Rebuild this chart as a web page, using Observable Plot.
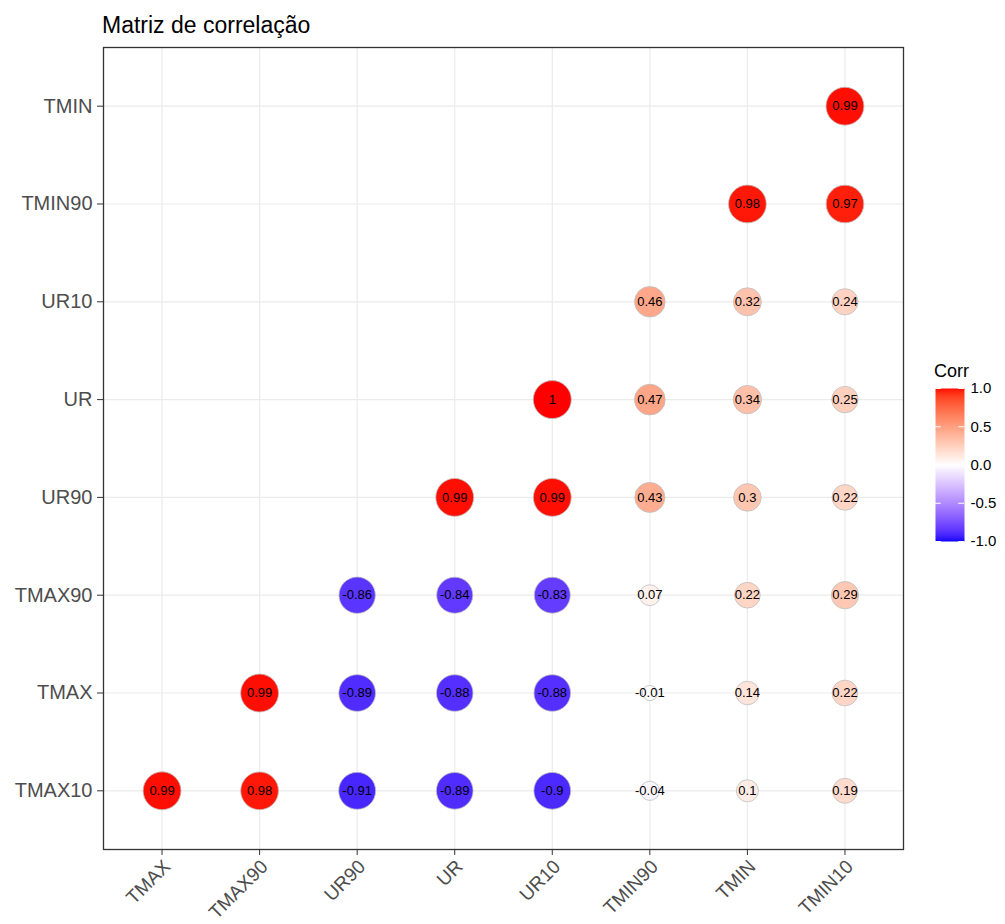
<!DOCTYPE html>
<html>
<head>
<meta charset="utf-8">
<script src="https://cdn.jsdelivr.net/npm/d3@7"></script>
<script src="https://cdn.jsdelivr.net/npm/@observablehq/plot@0.6"></script>
<style>
  html, body { margin: 0; padding: 0; background: #ffffff; }
  #wrap { position: relative; width: 1005px; height: 924px; font-family: "Liberation Sans", Arial, sans-serif; }
  #wrap > * { position: absolute; }
  #title { left: 102px; top: 14px; font-size: 23px; line-height: 1; color: #000; white-space: nowrap; }
  #legtitle { left: 934px; top: 362px; font-size: 18px; line-height: 1; color: #000; }
</style>
</head>
<body>
<div id="wrap">
  <div id="title">Matriz de correlação</div>
  <div id="legtitle">Corr</div>
</div>
<script>
// Column (x) categories, left to right
const cols = ["TMAX", "TMAX90", "UR90", "UR", "UR10", "TMIN90", "TMIN", "TMIN10"];
// Row (y) categories, bottom to top
const rows = ["TMAX10", "TMAX", "TMAX90", "UR90", "UR", "UR10", "TMIN90", "TMIN"];

// Correlation values per row, aligned to cols (null = empty cell)
const corrTMAX10 = [0.99, 0.98, -0.91, -0.89, -0.9, -0.04, 0.1, 0.19];
const corrTMAX   = [null, 0.99, -0.89, -0.88, -0.88, -0.01, 0.14, 0.22];
const corrTMAX90 = [null, null, -0.86, -0.84, -0.83, 0.07, 0.22, 0.29];
const corrUR90   = [null, null, null, 0.99, 0.99, 0.43, 0.3, 0.22];
const corrUR     = [null, null, null, null, 1, 0.47, 0.34, 0.25];
const corrUR10   = [null, null, null, null, null, 0.46, 0.32, 0.24];
const corrTMIN90 = [null, null, null, null, null, null, 0.98, 0.97];
const corrTMIN   = [null, null, null, null, null, null, null, 0.99];

const legendTicks = [-1, -0.5, 0, 0.5, 1];

const rowValues = [corrTMAX10, corrTMAX, corrTMAX90, corrUR90, corrUR, corrUR10, corrTMIN90, corrTMIN];
const cells = [];
rows.forEach((r, i) => {
  rowValues[i].forEach((v, j) => {
    if (v !== null) cells.push({row: r, col: cols[j], value: v});
  });
});
const absVals = cells.map(d => Math.abs(d.value));
const minAbs = d3.min(absVals), maxAbs = d3.max(absVals);

const colorScale = {type: "linear", domain: [-1, 0, 1], range: ["blue", "white", "red"], interpolate: "lab"};
const font = "'Liberation Sans', Arial, sans-serif";

const main = Plot.plot({
  width: 1005,
  height: 924,
  marginTop: 47,
  marginBottom: 75,
  marginLeft: 103,
  marginRight: 102,
  style: {fontFamily: font, background: "transparent"},
  x: {type: "point", domain: cols, padding: 0.6, round: false},
  y: {type: "point", domain: rows.slice().reverse(), padding: 0.6, round: false},
  r: {type: "pow", exponent: 0.5, domain: [0, maxAbs - minAbs], range: [7.6, 19]},
  color: colorScale,
  marks: [
    Plot.gridX({stroke: "#ebebeb", strokeOpacity: 1, strokeWidth: 1.2}),
    Plot.gridY({stroke: "#ebebeb", strokeOpacity: 1, strokeWidth: 1.2}),
    Plot.frame({stroke: "#333333", strokeWidth: 1.3}),
    Plot.axisY({tickSize: 6, tickPadding: 5, fontSize: 20, label: null, stroke: "#333333", fill: "#4d4d4d"}),
    // x tick marks only
    Plot.axisX({tickSize: 6, tickFormat: () => "", label: null, stroke: "#333333"}),
    // x tick labels, rotated
    Plot.axisX({tickSize: 0, tickPadding: 10, fontSize: 19, label: null, tickRotate: -45, dx: 5, dy: 4, fill: "#4d4d4d"}),
    Plot.dot(cells, {x: "col", y: "row", r: d => Math.abs(d.value) - minAbs, fill: "value", stroke: "#bebebe", strokeWidth: 0.8}),
    Plot.text(cells, {x: "col", y: "row", text: d => String(d.value), fontSize: 13, fill: "black"})
  ]
});
main.style.left = "0px";
main.style.top = "0px";
document.getElementById("wrap").prepend(main);

const legend = Plot.plot({
  width: 70,
  height: 173,
  marginTop: 10,
  marginBottom: 10,
  marginLeft: 0,
  marginRight: 41,
  style: {fontFamily: font, background: "transparent", overflow: "visible"},
  x: {domain: [0, 1], axis: null},
  y: {domain: [-1, 1]},
  color: colorScale,
  marks: [
    Plot.raster({x1: 0, x2: 1, y1: -1, y2: 1, fill: (x, y) => y}),
    Plot.ruleY(legendTicks, {x1: 0, x2: 0.2, stroke: "white", strokeWidth: 1}),
    Plot.ruleY(legendTicks, {x1: 0.8, x2: 1, stroke: "white", strokeWidth: 1}),
    Plot.axisY(legendTicks, {anchor: "right", tickSize: 0, tickPadding: 6, fontSize: 15, label: null, fill: "black", tickFormat: d => d.toFixed(1)})
  ]
});
legend.style.left = "935px";
legend.style.top = "378px";
document.getElementById("wrap").appendChild(legend);
</script>
</body>
</html>
